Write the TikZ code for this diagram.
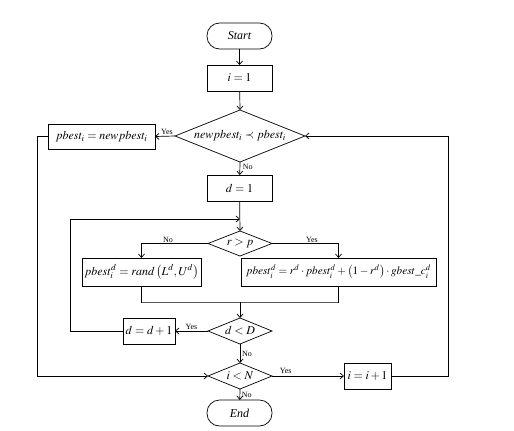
\documentclass[tikz,border=0pt]{standalone}
\usepackage{mathptmx}
\usepackage{fontspec}
\setmainfont{Liberation Serif}
\usetikzlibrary{arrows.meta,shapes.geometric}
\begin{document}
\begin{tikzpicture}[x=1pt,y=-1pt,
  line width=0.7pt,
  every node/.style={inner sep=0pt,outer sep=0pt},
  arr/.style={-{Straight Barb[length=3.5pt,width=6pt]}},
  mfont/.style={font=\fontsize{12}{14}\selectfont},
  box/.style={draw,rectangle,mfont},
  term/.style={draw,rectangle,rounded corners=12.5pt,minimum width=65pt,minimum height=26pt,font=\fontsize{12}{14}\selectfont\itshape},
  dia/.style={draw,diamond},
  lab/.style={font=\fontsize{8}{9}\selectfont}
]
\useasboundingbox (0,0) rectangle (514,431);
% terminals and boxes
\node[term] (start) at (239.5,36) {Start};
\node[box,minimum width=65pt,minimum height=26pt] (i1) at (239.5,78) {$i=1$};
\node[dia,minimum width=130pt,minimum height=52pt,label={[mfont]center:{$newpbest_i\prec pbest_i$}}] (c1) at (240,136) {};
\node[box,minimum width=107pt,minimum height=25pt] (pb) at (101.5,136.5) {$pbest_i=newpbest_i$};
\node[box,minimum width=65pt,minimum height=26pt] (d1) at (239.5,188) {$d=1$};
\node[dia,minimum width=64pt,minimum height=25pt,label={[mfont]center:{$r>p$}}] (rp) at (240,243.5) {};
\node[box,minimum width=119pt,minimum height=28pt] (lb) at (141.5,272) {$pbest_i^d=rand\left(L^d,U^d\right)$};
\node[box,minimum width=195pt,minimum height=28pt,font=\fontsize{11.2}{13}\selectfont] (rb) at (338.5,272) {$pbest_i^d=r^d\cdot pbest_i^d+\left(1-r^d\right)\cdot gbest\_c_i^d$};
\node[dia,minimum width=64pt,minimum height=26pt,label={[mfont]center:{$d<D$}}] (dD) at (240,331) {};
\node[box,minimum width=52pt,minimum height=26pt] (dp) at (149,331) {$d=d+1$};
\node[dia,minimum width=64pt,minimum height=26pt,label={[mfont]center:{$i<N$}}] (iN) at (240,376) {};
\node[box,minimum width=47pt,minimum height=26pt] (ip) at (367.5,376) {$i=i+1$};
\node[term] (end) at (239.5,413) {End};
% junction coordinates
\coordinate (j1) at (240,219);
\coordinate (m1) at (142,302);
\coordinate (m2) at (339,302);
\coordinate (mj) at (240,302);
% connectors
\draw[arr] (start) -- (i1);
\draw[arr] (i1) -- (c1.north);
\draw[arr] (c1.south) -- node[lab,anchor=west,xshift=3pt,yshift=2pt]{No} (d1);
\draw[arr] (c1.west) -- node[lab,anchor=south,xshift=2pt,yshift=2pt]{Yes} (pb.east);
\draw[arr] (d1) -- (rp.north);
\draw[arr] (rp.west) -| node[lab,pos=0.3,anchor=south,yshift=1pt]{No} (lb.north);
\draw[arr] (rp.east) -| node[lab,pos=0.3,anchor=south,yshift=1pt]{Yes} (rb.north);
\draw (lb.south) |- (m1) -- (m2) -| (rb.south);
\draw[arr] (mj) -- (dD.north);
\draw[arr] (dD.west) -- node[lab,anchor=south,yshift=1.5pt]{Yes} (dp.east);
\draw[arr] (dp.west) -- (70,331) -- (70,219) -- (j1);
\draw[arr] (dD.south) -- node[lab,anchor=west,xshift=2pt]{No} (iN.north);
\draw[arr] (pb.west) -- (37,136.5) -- (37,376) -- (iN.west);
\draw[arr] (iN.east) -- node[lab,pos=0.19,anchor=south,yshift=2pt]{Yes} (ip.west);
\draw[arr] (ip.east) -- (448,376) -- (448,136) -- (c1.east);
\draw[arr] (iN.south) -- node[lab,anchor=west,xshift=2pt]{No} (end);
\end{tikzpicture}
\end{document}
